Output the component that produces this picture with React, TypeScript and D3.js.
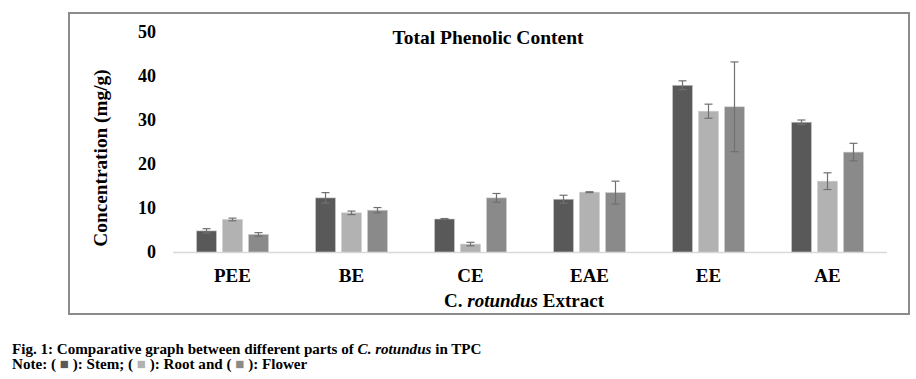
import React from "react";
import * as d3 from "d3";

const categories = ["PEE", "BE", "CE", "EAE", "EE", "AE"];
const seriesNames = ["Stem", "Root", "Flower"];
const stemValues = [4.8, 12.3, 7.5, 12.0, 37.9, 29.5];
const stemErrors = [0.5, 1.2, 0.1, 0.9, 1.0, 0.5];
const rootValues = [7.4, 8.9, 1.8, 13.6, 32.0, 16.1];
const rootErrors = [0.3, 0.4, 0.4, 0.1, 1.6, 1.9];
const flowerValues = [4.0, 9.5, 12.3, 13.5, 33.0, 22.7];
const flowerErrors = [0.4, 0.6, 1.0, 2.6, 10.2, 2.0];
const yTicks = [0, 10, 20, 30, 40, 50];
const seriesColors = ["#595959", "#b2b2b2", "#8a8a8a"];

const W = 916;
const H = 379;
const plot = { left: 173, right: 887, top: 32, bottom: 252 };
const serif = "'Liberation Serif', 'Times New Roman', serif";

export default function App() {
  const x = d3.scaleBand<string>().domain(categories).range([plot.left, plot.right]).paddingInner(0).paddingOuter(0);
  const y = d3.scaleLinear().domain([0, 50]).range([plot.bottom, plot.top]);
  const inner = d3.scaleBand<string>().domain(seriesNames).range([0, 72]).paddingInner(0.23).paddingOuter(0);
  const groupOffset = (x.bandwidth() - 72) / 2;
  const values = [stemValues, rootValues, flowerValues];
  const errors = [stemErrors, rootErrors, flowerErrors];

  return (
    <svg width={W} height={H} style={{ position: "absolute", left: 0, top: 0, background: "#fff" }}>
      <rect x={0} y={0} width={W} height={H} fill="#fff" />
      <rect x={69} y={13} width={840} height={301} fill="none" stroke="#8c8c8c" strokeWidth={2} />
      <text x={488} y={44} textAnchor="middle" fontFamily={serif} fontWeight="bold" fontSize={19.5}>
        Total Phenolic Content
      </text>
      {yTicks.map((t) => (
        <text key={t} x={156} y={y(t) + 6} textAnchor="end" fontFamily={serif} fontWeight="bold" fontSize={18}>
          {t}
        </text>
      ))}
      <text
        transform={`translate(107,158) rotate(-90)`}
        textAnchor="middle"
        fontFamily={serif}
        fontWeight="bold"
        fontSize={19.3}
      >
        Concentration (mg/g)
      </text>
      <line x1={plot.left} x2={plot.right} y1={y(0) + 0.5} y2={y(0) + 0.5} stroke="#d9d9d9" strokeWidth={1.5} />
      {categories.map((c, i) => (
        <g key={c}>
          {seriesNames.map((s, k) => {
            const bx = (x(c) as number) + groupOffset + (inner(s) as number);
            const bw = inner.bandwidth();
            const v = values[k][i];
            const e = errors[k][i];
            const cx = bx + bw / 2;
            return (
              <g key={s}>
                <rect x={bx} y={y(v)} width={bw} height={y(0) - y(v)} fill={seriesColors[k]} stroke="#d0d0d0" strokeWidth={0.6} />
                <line x1={cx} x2={cx} y1={y(v + e)} y2={y(v - e)} stroke="#707070" strokeWidth={1.2} />
                <line x1={cx - 4} x2={cx + 4} y1={y(v + e)} y2={y(v + e)} stroke="#707070" strokeWidth={1.2} />
                <line x1={cx - 4} x2={cx + 4} y1={y(v - e)} y2={y(v - e)} stroke="#707070" strokeWidth={1.2} />
              </g>
            );
          })}
          <text
            x={(x(c) as number) + x.bandwidth() / 2}
            y={282}
            textAnchor="middle"
            fontFamily={serif}
            fontWeight="bold"
            fontSize={19}
          >
            {c}
          </text>
        </g>
      ))}
      <text x={524} y={307} textAnchor="middle" fontFamily={serif} fontWeight="bold" fontSize={19}>
        C. <tspan fontStyle="italic">rotundus</tspan> Extract
      </text>
      <text x={12} y={354} fontFamily={serif} fontWeight="bold" fontSize={15.1}>
        Fig. 1: Comparative graph between different parts of <tspan fontStyle="italic">C. rotundus</tspan> in TPC
      </text>
      <text x={12} y={369} fontFamily={serif} fontWeight="bold" fontSize={15.1}>
        {"Note: ( "}
        <tspan fill={seriesColors[0]}>■</tspan>
        {" ): Stem; ( "}
        <tspan fill={seriesColors[1]}>■</tspan>
        {" ): Root and ( "}
        <tspan fill={seriesColors[2]}>■</tspan>
        {" ): Flower"}
      </text>
    </svg>
  );
}
